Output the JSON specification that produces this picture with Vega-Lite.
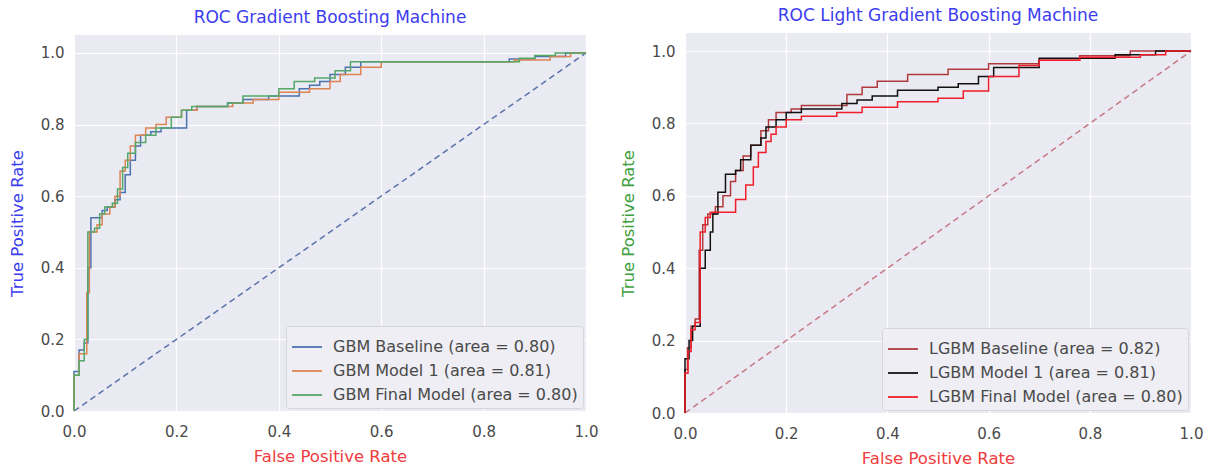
{
  "$schema": "https://vega.github.io/schema/vega-lite/v6.json",
  "background": "white",
  "padding": {"left": 9, "top": 7, "right": 5, "bottom": 5},
  "spacing": 99,
  "bounds": "flush",
  "center": true,
  "resolve": {"scale": {"color": "independent"}},
  "datasets": {
    "diag": [{"fpr": 0, "tpr": 0}, {"fpr": 1, "tpr": 1}],
    "gbm": [
      {"model": "GBM Baseline (area = 0.80)", "fpr": 0, "tpr": 0},
      {"model": "GBM Baseline (area = 0.80)", "fpr": 0, "tpr": 0.11},
      {"model": "GBM Baseline (area = 0.80)", "fpr": 0.01, "tpr": 0.11},
      {"model": "GBM Baseline (area = 0.80)", "fpr": 0.01, "tpr": 0.17},
      {"model": "GBM Baseline (area = 0.80)", "fpr": 0.02, "tpr": 0.17},
      {"model": "GBM Baseline (area = 0.80)", "fpr": 0.02, "tpr": 0.19},
      {"model": "GBM Baseline (area = 0.80)", "fpr": 0.027, "tpr": 0.19},
      {"model": "GBM Baseline (area = 0.80)", "fpr": 0.027, "tpr": 0.4},
      {"model": "GBM Baseline (area = 0.80)", "fpr": 0.033, "tpr": 0.4},
      {"model": "GBM Baseline (area = 0.80)", "fpr": 0.033, "tpr": 0.54},
      {"model": "GBM Baseline (area = 0.80)", "fpr": 0.055, "tpr": 0.54},
      {"model": "GBM Baseline (area = 0.80)", "fpr": 0.055, "tpr": 0.56},
      {"model": "GBM Baseline (area = 0.80)", "fpr": 0.065, "tpr": 0.56},
      {"model": "GBM Baseline (area = 0.80)", "fpr": 0.065, "tpr": 0.57},
      {"model": "GBM Baseline (area = 0.80)", "fpr": 0.08, "tpr": 0.57},
      {"model": "GBM Baseline (area = 0.80)", "fpr": 0.08, "tpr": 0.59},
      {"model": "GBM Baseline (area = 0.80)", "fpr": 0.09, "tpr": 0.59},
      {"model": "GBM Baseline (area = 0.80)", "fpr": 0.09, "tpr": 0.61},
      {"model": "GBM Baseline (area = 0.80)", "fpr": 0.1, "tpr": 0.61},
      {"model": "GBM Baseline (area = 0.80)", "fpr": 0.1, "tpr": 0.66},
      {"model": "GBM Baseline (area = 0.80)", "fpr": 0.11, "tpr": 0.66},
      {"model": "GBM Baseline (area = 0.80)", "fpr": 0.11, "tpr": 0.7},
      {"model": "GBM Baseline (area = 0.80)", "fpr": 0.12, "tpr": 0.7},
      {"model": "GBM Baseline (area = 0.80)", "fpr": 0.12, "tpr": 0.74},
      {"model": "GBM Baseline (area = 0.80)", "fpr": 0.13, "tpr": 0.74},
      {"model": "GBM Baseline (area = 0.80)", "fpr": 0.13, "tpr": 0.77},
      {"model": "GBM Baseline (area = 0.80)", "fpr": 0.15, "tpr": 0.77},
      {"model": "GBM Baseline (area = 0.80)", "fpr": 0.15, "tpr": 0.78},
      {"model": "GBM Baseline (area = 0.80)", "fpr": 0.17, "tpr": 0.78},
      {"model": "GBM Baseline (area = 0.80)", "fpr": 0.17, "tpr": 0.79},
      {"model": "GBM Baseline (area = 0.80)", "fpr": 0.22, "tpr": 0.79},
      {"model": "GBM Baseline (area = 0.80)", "fpr": 0.22, "tpr": 0.84},
      {"model": "GBM Baseline (area = 0.80)", "fpr": 0.24, "tpr": 0.84},
      {"model": "GBM Baseline (area = 0.80)", "fpr": 0.24, "tpr": 0.85},
      {"model": "GBM Baseline (area = 0.80)", "fpr": 0.3, "tpr": 0.85},
      {"model": "GBM Baseline (area = 0.80)", "fpr": 0.3, "tpr": 0.86},
      {"model": "GBM Baseline (area = 0.80)", "fpr": 0.33, "tpr": 0.86},
      {"model": "GBM Baseline (area = 0.80)", "fpr": 0.33, "tpr": 0.87},
      {"model": "GBM Baseline (area = 0.80)", "fpr": 0.38, "tpr": 0.87},
      {"model": "GBM Baseline (area = 0.80)", "fpr": 0.38, "tpr": 0.88},
      {"model": "GBM Baseline (area = 0.80)", "fpr": 0.44, "tpr": 0.88},
      {"model": "GBM Baseline (area = 0.80)", "fpr": 0.44, "tpr": 0.9},
      {"model": "GBM Baseline (area = 0.80)", "fpr": 0.46, "tpr": 0.9},
      {"model": "GBM Baseline (area = 0.80)", "fpr": 0.46, "tpr": 0.91},
      {"model": "GBM Baseline (area = 0.80)", "fpr": 0.48, "tpr": 0.91},
      {"model": "GBM Baseline (area = 0.80)", "fpr": 0.48, "tpr": 0.92},
      {"model": "GBM Baseline (area = 0.80)", "fpr": 0.5, "tpr": 0.92},
      {"model": "GBM Baseline (area = 0.80)", "fpr": 0.5, "tpr": 0.94},
      {"model": "GBM Baseline (area = 0.80)", "fpr": 0.53, "tpr": 0.94},
      {"model": "GBM Baseline (area = 0.80)", "fpr": 0.53, "tpr": 0.96},
      {"model": "GBM Baseline (area = 0.80)", "fpr": 0.56, "tpr": 0.96},
      {"model": "GBM Baseline (area = 0.80)", "fpr": 0.56, "tpr": 0.975},
      {"model": "GBM Baseline (area = 0.80)", "fpr": 0.85, "tpr": 0.975},
      {"model": "GBM Baseline (area = 0.80)", "fpr": 0.85, "tpr": 0.983},
      {"model": "GBM Baseline (area = 0.80)", "fpr": 0.9, "tpr": 0.983},
      {"model": "GBM Baseline (area = 0.80)", "fpr": 0.9, "tpr": 0.99},
      {"model": "GBM Baseline (area = 0.80)", "fpr": 0.96, "tpr": 0.99},
      {"model": "GBM Baseline (area = 0.80)", "fpr": 0.96, "tpr": 1},
      {"model": "GBM Baseline (area = 0.80)", "fpr": 1, "tpr": 1},
      {"model": "GBM Model 1 (area = 0.81)", "fpr": 0, "tpr": 0},
      {"model": "GBM Model 1 (area = 0.81)", "fpr": 0, "tpr": 0.1},
      {"model": "GBM Model 1 (area = 0.81)", "fpr": 0.01, "tpr": 0.1},
      {"model": "GBM Model 1 (area = 0.81)", "fpr": 0.01, "tpr": 0.16},
      {"model": "GBM Model 1 (area = 0.81)", "fpr": 0.025, "tpr": 0.16},
      {"model": "GBM Model 1 (area = 0.81)", "fpr": 0.025, "tpr": 0.33},
      {"model": "GBM Model 1 (area = 0.81)", "fpr": 0.03, "tpr": 0.33},
      {"model": "GBM Model 1 (area = 0.81)", "fpr": 0.03, "tpr": 0.5},
      {"model": "GBM Model 1 (area = 0.81)", "fpr": 0.045, "tpr": 0.5},
      {"model": "GBM Model 1 (area = 0.81)", "fpr": 0.045, "tpr": 0.52},
      {"model": "GBM Model 1 (area = 0.81)", "fpr": 0.055, "tpr": 0.52},
      {"model": "GBM Model 1 (area = 0.81)", "fpr": 0.055, "tpr": 0.55},
      {"model": "GBM Model 1 (area = 0.81)", "fpr": 0.07, "tpr": 0.55},
      {"model": "GBM Model 1 (area = 0.81)", "fpr": 0.07, "tpr": 0.57},
      {"model": "GBM Model 1 (area = 0.81)", "fpr": 0.08, "tpr": 0.57},
      {"model": "GBM Model 1 (area = 0.81)", "fpr": 0.08, "tpr": 0.6},
      {"model": "GBM Model 1 (area = 0.81)", "fpr": 0.09, "tpr": 0.6},
      {"model": "GBM Model 1 (area = 0.81)", "fpr": 0.09, "tpr": 0.67},
      {"model": "GBM Model 1 (area = 0.81)", "fpr": 0.1, "tpr": 0.67},
      {"model": "GBM Model 1 (area = 0.81)", "fpr": 0.1, "tpr": 0.7},
      {"model": "GBM Model 1 (area = 0.81)", "fpr": 0.11, "tpr": 0.7},
      {"model": "GBM Model 1 (area = 0.81)", "fpr": 0.11, "tpr": 0.74},
      {"model": "GBM Model 1 (area = 0.81)", "fpr": 0.12, "tpr": 0.74},
      {"model": "GBM Model 1 (area = 0.81)", "fpr": 0.12, "tpr": 0.77},
      {"model": "GBM Model 1 (area = 0.81)", "fpr": 0.14, "tpr": 0.77},
      {"model": "GBM Model 1 (area = 0.81)", "fpr": 0.14, "tpr": 0.79},
      {"model": "GBM Model 1 (area = 0.81)", "fpr": 0.16, "tpr": 0.79},
      {"model": "GBM Model 1 (area = 0.81)", "fpr": 0.16, "tpr": 0.8},
      {"model": "GBM Model 1 (area = 0.81)", "fpr": 0.18, "tpr": 0.8},
      {"model": "GBM Model 1 (area = 0.81)", "fpr": 0.18, "tpr": 0.82},
      {"model": "GBM Model 1 (area = 0.81)", "fpr": 0.21, "tpr": 0.82},
      {"model": "GBM Model 1 (area = 0.81)", "fpr": 0.21, "tpr": 0.84},
      {"model": "GBM Model 1 (area = 0.81)", "fpr": 0.24, "tpr": 0.84},
      {"model": "GBM Model 1 (area = 0.81)", "fpr": 0.24, "tpr": 0.85},
      {"model": "GBM Model 1 (area = 0.81)", "fpr": 0.31, "tpr": 0.85},
      {"model": "GBM Model 1 (area = 0.81)", "fpr": 0.31, "tpr": 0.86},
      {"model": "GBM Model 1 (area = 0.81)", "fpr": 0.35, "tpr": 0.86},
      {"model": "GBM Model 1 (area = 0.81)", "fpr": 0.35, "tpr": 0.87},
      {"model": "GBM Model 1 (area = 0.81)", "fpr": 0.4, "tpr": 0.87},
      {"model": "GBM Model 1 (area = 0.81)", "fpr": 0.4, "tpr": 0.89},
      {"model": "GBM Model 1 (area = 0.81)", "fpr": 0.46, "tpr": 0.89},
      {"model": "GBM Model 1 (area = 0.81)", "fpr": 0.46, "tpr": 0.9},
      {"model": "GBM Model 1 (area = 0.81)", "fpr": 0.5, "tpr": 0.9},
      {"model": "GBM Model 1 (area = 0.81)", "fpr": 0.5, "tpr": 0.92},
      {"model": "GBM Model 1 (area = 0.81)", "fpr": 0.52, "tpr": 0.92},
      {"model": "GBM Model 1 (area = 0.81)", "fpr": 0.52, "tpr": 0.94},
      {"model": "GBM Model 1 (area = 0.81)", "fpr": 0.56, "tpr": 0.94},
      {"model": "GBM Model 1 (area = 0.81)", "fpr": 0.56, "tpr": 0.96},
      {"model": "GBM Model 1 (area = 0.81)", "fpr": 0.6, "tpr": 0.96},
      {"model": "GBM Model 1 (area = 0.81)", "fpr": 0.6, "tpr": 0.975},
      {"model": "GBM Model 1 (area = 0.81)", "fpr": 0.86, "tpr": 0.975},
      {"model": "GBM Model 1 (area = 0.81)", "fpr": 0.86, "tpr": 0.98},
      {"model": "GBM Model 1 (area = 0.81)", "fpr": 0.93, "tpr": 0.98},
      {"model": "GBM Model 1 (area = 0.81)", "fpr": 0.93, "tpr": 0.99},
      {"model": "GBM Model 1 (area = 0.81)", "fpr": 0.97, "tpr": 0.99},
      {"model": "GBM Model 1 (area = 0.81)", "fpr": 0.97, "tpr": 1},
      {"model": "GBM Model 1 (area = 0.81)", "fpr": 1, "tpr": 1},
      {"model": "GBM Final Model (area = 0.80)", "fpr": 0, "tpr": 0},
      {"model": "GBM Final Model (area = 0.80)", "fpr": 0, "tpr": 0.1},
      {"model": "GBM Final Model (area = 0.80)", "fpr": 0.01, "tpr": 0.1},
      {"model": "GBM Final Model (area = 0.80)", "fpr": 0.01, "tpr": 0.14},
      {"model": "GBM Final Model (area = 0.80)", "fpr": 0.02, "tpr": 0.14},
      {"model": "GBM Final Model (area = 0.80)", "fpr": 0.02, "tpr": 0.2},
      {"model": "GBM Final Model (area = 0.80)", "fpr": 0.027, "tpr": 0.2},
      {"model": "GBM Final Model (area = 0.80)", "fpr": 0.027, "tpr": 0.5},
      {"model": "GBM Final Model (area = 0.80)", "fpr": 0.04, "tpr": 0.5},
      {"model": "GBM Final Model (area = 0.80)", "fpr": 0.04, "tpr": 0.51},
      {"model": "GBM Final Model (area = 0.80)", "fpr": 0.05, "tpr": 0.51},
      {"model": "GBM Final Model (area = 0.80)", "fpr": 0.05, "tpr": 0.55},
      {"model": "GBM Final Model (area = 0.80)", "fpr": 0.06, "tpr": 0.55},
      {"model": "GBM Final Model (area = 0.80)", "fpr": 0.06, "tpr": 0.57},
      {"model": "GBM Final Model (area = 0.80)", "fpr": 0.075, "tpr": 0.57},
      {"model": "GBM Final Model (area = 0.80)", "fpr": 0.075, "tpr": 0.58},
      {"model": "GBM Final Model (area = 0.80)", "fpr": 0.085, "tpr": 0.58},
      {"model": "GBM Final Model (area = 0.80)", "fpr": 0.085, "tpr": 0.62},
      {"model": "GBM Final Model (area = 0.80)", "fpr": 0.095, "tpr": 0.62},
      {"model": "GBM Final Model (area = 0.80)", "fpr": 0.095, "tpr": 0.68},
      {"model": "GBM Final Model (area = 0.80)", "fpr": 0.105, "tpr": 0.68},
      {"model": "GBM Final Model (area = 0.80)", "fpr": 0.105, "tpr": 0.72},
      {"model": "GBM Final Model (area = 0.80)", "fpr": 0.12, "tpr": 0.72},
      {"model": "GBM Final Model (area = 0.80)", "fpr": 0.12, "tpr": 0.75},
      {"model": "GBM Final Model (area = 0.80)", "fpr": 0.14, "tpr": 0.75},
      {"model": "GBM Final Model (area = 0.80)", "fpr": 0.14, "tpr": 0.77},
      {"model": "GBM Final Model (area = 0.80)", "fpr": 0.16, "tpr": 0.77},
      {"model": "GBM Final Model (area = 0.80)", "fpr": 0.16, "tpr": 0.79},
      {"model": "GBM Final Model (area = 0.80)", "fpr": 0.19, "tpr": 0.79},
      {"model": "GBM Final Model (area = 0.80)", "fpr": 0.19, "tpr": 0.82},
      {"model": "GBM Final Model (area = 0.80)", "fpr": 0.21, "tpr": 0.82},
      {"model": "GBM Final Model (area = 0.80)", "fpr": 0.21, "tpr": 0.84},
      {"model": "GBM Final Model (area = 0.80)", "fpr": 0.23, "tpr": 0.84},
      {"model": "GBM Final Model (area = 0.80)", "fpr": 0.23, "tpr": 0.85},
      {"model": "GBM Final Model (area = 0.80)", "fpr": 0.3, "tpr": 0.85},
      {"model": "GBM Final Model (area = 0.80)", "fpr": 0.3, "tpr": 0.86},
      {"model": "GBM Final Model (area = 0.80)", "fpr": 0.33, "tpr": 0.86},
      {"model": "GBM Final Model (area = 0.80)", "fpr": 0.33, "tpr": 0.88},
      {"model": "GBM Final Model (area = 0.80)", "fpr": 0.4, "tpr": 0.88},
      {"model": "GBM Final Model (area = 0.80)", "fpr": 0.4, "tpr": 0.9},
      {"model": "GBM Final Model (area = 0.80)", "fpr": 0.43, "tpr": 0.9},
      {"model": "GBM Final Model (area = 0.80)", "fpr": 0.43, "tpr": 0.92},
      {"model": "GBM Final Model (area = 0.80)", "fpr": 0.47, "tpr": 0.92},
      {"model": "GBM Final Model (area = 0.80)", "fpr": 0.47, "tpr": 0.93},
      {"model": "GBM Final Model (area = 0.80)", "fpr": 0.51, "tpr": 0.93},
      {"model": "GBM Final Model (area = 0.80)", "fpr": 0.51, "tpr": 0.95},
      {"model": "GBM Final Model (area = 0.80)", "fpr": 0.54, "tpr": 0.95},
      {"model": "GBM Final Model (area = 0.80)", "fpr": 0.54, "tpr": 0.975},
      {"model": "GBM Final Model (area = 0.80)", "fpr": 0.87, "tpr": 0.975},
      {"model": "GBM Final Model (area = 0.80)", "fpr": 0.87, "tpr": 0.985},
      {"model": "GBM Final Model (area = 0.80)", "fpr": 0.9, "tpr": 0.985},
      {"model": "GBM Final Model (area = 0.80)", "fpr": 0.9, "tpr": 0.993},
      {"model": "GBM Final Model (area = 0.80)", "fpr": 0.94, "tpr": 0.993},
      {"model": "GBM Final Model (area = 0.80)", "fpr": 0.94, "tpr": 1},
      {"model": "GBM Final Model (area = 0.80)", "fpr": 1, "tpr": 1}
    ],
    "lgbm": [
      {"model": "LGBM Baseline (area = 0.82)", "fpr": 0, "tpr": 0},
      {"model": "LGBM Baseline (area = 0.82)", "fpr": 0, "tpr": 0.12},
      {"model": "LGBM Baseline (area = 0.82)", "fpr": 0.005, "tpr": 0.12},
      {"model": "LGBM Baseline (area = 0.82)", "fpr": 0.005, "tpr": 0.18},
      {"model": "LGBM Baseline (area = 0.82)", "fpr": 0.012, "tpr": 0.18},
      {"model": "LGBM Baseline (area = 0.82)", "fpr": 0.012, "tpr": 0.24},
      {"model": "LGBM Baseline (area = 0.82)", "fpr": 0.02, "tpr": 0.24},
      {"model": "LGBM Baseline (area = 0.82)", "fpr": 0.02, "tpr": 0.26},
      {"model": "LGBM Baseline (area = 0.82)", "fpr": 0.028, "tpr": 0.26},
      {"model": "LGBM Baseline (area = 0.82)", "fpr": 0.028, "tpr": 0.45},
      {"model": "LGBM Baseline (area = 0.82)", "fpr": 0.035, "tpr": 0.45},
      {"model": "LGBM Baseline (area = 0.82)", "fpr": 0.035, "tpr": 0.52},
      {"model": "LGBM Baseline (area = 0.82)", "fpr": 0.045, "tpr": 0.52},
      {"model": "LGBM Baseline (area = 0.82)", "fpr": 0.045, "tpr": 0.55},
      {"model": "LGBM Baseline (area = 0.82)", "fpr": 0.06, "tpr": 0.55},
      {"model": "LGBM Baseline (area = 0.82)", "fpr": 0.06, "tpr": 0.57},
      {"model": "LGBM Baseline (area = 0.82)", "fpr": 0.075, "tpr": 0.57},
      {"model": "LGBM Baseline (area = 0.82)", "fpr": 0.075, "tpr": 0.6},
      {"model": "LGBM Baseline (area = 0.82)", "fpr": 0.09, "tpr": 0.6},
      {"model": "LGBM Baseline (area = 0.82)", "fpr": 0.09, "tpr": 0.64},
      {"model": "LGBM Baseline (area = 0.82)", "fpr": 0.1, "tpr": 0.64},
      {"model": "LGBM Baseline (area = 0.82)", "fpr": 0.1, "tpr": 0.67},
      {"model": "LGBM Baseline (area = 0.82)", "fpr": 0.115, "tpr": 0.67},
      {"model": "LGBM Baseline (area = 0.82)", "fpr": 0.115, "tpr": 0.71},
      {"model": "LGBM Baseline (area = 0.82)", "fpr": 0.13, "tpr": 0.71},
      {"model": "LGBM Baseline (area = 0.82)", "fpr": 0.13, "tpr": 0.74},
      {"model": "LGBM Baseline (area = 0.82)", "fpr": 0.15, "tpr": 0.74},
      {"model": "LGBM Baseline (area = 0.82)", "fpr": 0.15, "tpr": 0.78},
      {"model": "LGBM Baseline (area = 0.82)", "fpr": 0.165, "tpr": 0.78},
      {"model": "LGBM Baseline (area = 0.82)", "fpr": 0.165, "tpr": 0.81},
      {"model": "LGBM Baseline (area = 0.82)", "fpr": 0.18, "tpr": 0.81},
      {"model": "LGBM Baseline (area = 0.82)", "fpr": 0.18, "tpr": 0.83},
      {"model": "LGBM Baseline (area = 0.82)", "fpr": 0.21, "tpr": 0.83},
      {"model": "LGBM Baseline (area = 0.82)", "fpr": 0.21, "tpr": 0.84},
      {"model": "LGBM Baseline (area = 0.82)", "fpr": 0.23, "tpr": 0.84},
      {"model": "LGBM Baseline (area = 0.82)", "fpr": 0.23, "tpr": 0.85},
      {"model": "LGBM Baseline (area = 0.82)", "fpr": 0.32, "tpr": 0.85},
      {"model": "LGBM Baseline (area = 0.82)", "fpr": 0.32, "tpr": 0.88},
      {"model": "LGBM Baseline (area = 0.82)", "fpr": 0.35, "tpr": 0.88},
      {"model": "LGBM Baseline (area = 0.82)", "fpr": 0.35, "tpr": 0.9},
      {"model": "LGBM Baseline (area = 0.82)", "fpr": 0.38, "tpr": 0.9},
      {"model": "LGBM Baseline (area = 0.82)", "fpr": 0.38, "tpr": 0.917},
      {"model": "LGBM Baseline (area = 0.82)", "fpr": 0.44, "tpr": 0.917},
      {"model": "LGBM Baseline (area = 0.82)", "fpr": 0.44, "tpr": 0.935},
      {"model": "LGBM Baseline (area = 0.82)", "fpr": 0.52, "tpr": 0.935},
      {"model": "LGBM Baseline (area = 0.82)", "fpr": 0.52, "tpr": 0.95},
      {"model": "LGBM Baseline (area = 0.82)", "fpr": 0.6, "tpr": 0.95},
      {"model": "LGBM Baseline (area = 0.82)", "fpr": 0.6, "tpr": 0.965},
      {"model": "LGBM Baseline (area = 0.82)", "fpr": 0.7, "tpr": 0.965},
      {"model": "LGBM Baseline (area = 0.82)", "fpr": 0.7, "tpr": 0.975},
      {"model": "LGBM Baseline (area = 0.82)", "fpr": 0.78, "tpr": 0.975},
      {"model": "LGBM Baseline (area = 0.82)", "fpr": 0.78, "tpr": 0.987},
      {"model": "LGBM Baseline (area = 0.82)", "fpr": 0.88, "tpr": 0.987},
      {"model": "LGBM Baseline (area = 0.82)", "fpr": 0.88, "tpr": 1},
      {"model": "LGBM Baseline (area = 0.82)", "fpr": 1, "tpr": 1},
      {"model": "LGBM Model 1 (area = 0.81)", "fpr": 0, "tpr": 0},
      {"model": "LGBM Model 1 (area = 0.81)", "fpr": 0, "tpr": 0.15},
      {"model": "LGBM Model 1 (area = 0.81)", "fpr": 0.008, "tpr": 0.15},
      {"model": "LGBM Model 1 (area = 0.81)", "fpr": 0.008, "tpr": 0.2},
      {"model": "LGBM Model 1 (area = 0.81)", "fpr": 0.015, "tpr": 0.2},
      {"model": "LGBM Model 1 (area = 0.81)", "fpr": 0.015, "tpr": 0.24},
      {"model": "LGBM Model 1 (area = 0.81)", "fpr": 0.03, "tpr": 0.24},
      {"model": "LGBM Model 1 (area = 0.81)", "fpr": 0.03, "tpr": 0.4},
      {"model": "LGBM Model 1 (area = 0.81)", "fpr": 0.04, "tpr": 0.4},
      {"model": "LGBM Model 1 (area = 0.81)", "fpr": 0.04, "tpr": 0.45},
      {"model": "LGBM Model 1 (area = 0.81)", "fpr": 0.05, "tpr": 0.45},
      {"model": "LGBM Model 1 (area = 0.81)", "fpr": 0.05, "tpr": 0.5},
      {"model": "LGBM Model 1 (area = 0.81)", "fpr": 0.055, "tpr": 0.5},
      {"model": "LGBM Model 1 (area = 0.81)", "fpr": 0.055, "tpr": 0.55},
      {"model": "LGBM Model 1 (area = 0.81)", "fpr": 0.065, "tpr": 0.55},
      {"model": "LGBM Model 1 (area = 0.81)", "fpr": 0.065, "tpr": 0.61},
      {"model": "LGBM Model 1 (area = 0.81)", "fpr": 0.08, "tpr": 0.61},
      {"model": "LGBM Model 1 (area = 0.81)", "fpr": 0.08, "tpr": 0.66},
      {"model": "LGBM Model 1 (area = 0.81)", "fpr": 0.1, "tpr": 0.66},
      {"model": "LGBM Model 1 (area = 0.81)", "fpr": 0.1, "tpr": 0.67},
      {"model": "LGBM Model 1 (area = 0.81)", "fpr": 0.11, "tpr": 0.67},
      {"model": "LGBM Model 1 (area = 0.81)", "fpr": 0.11, "tpr": 0.7},
      {"model": "LGBM Model 1 (area = 0.81)", "fpr": 0.13, "tpr": 0.7},
      {"model": "LGBM Model 1 (area = 0.81)", "fpr": 0.13, "tpr": 0.74},
      {"model": "LGBM Model 1 (area = 0.81)", "fpr": 0.15, "tpr": 0.74},
      {"model": "LGBM Model 1 (area = 0.81)", "fpr": 0.15, "tpr": 0.76},
      {"model": "LGBM Model 1 (area = 0.81)", "fpr": 0.16, "tpr": 0.76},
      {"model": "LGBM Model 1 (area = 0.81)", "fpr": 0.16, "tpr": 0.79},
      {"model": "LGBM Model 1 (area = 0.81)", "fpr": 0.18, "tpr": 0.79},
      {"model": "LGBM Model 1 (area = 0.81)", "fpr": 0.18, "tpr": 0.81},
      {"model": "LGBM Model 1 (area = 0.81)", "fpr": 0.2, "tpr": 0.81},
      {"model": "LGBM Model 1 (area = 0.81)", "fpr": 0.2, "tpr": 0.83},
      {"model": "LGBM Model 1 (area = 0.81)", "fpr": 0.23, "tpr": 0.83},
      {"model": "LGBM Model 1 (area = 0.81)", "fpr": 0.23, "tpr": 0.84},
      {"model": "LGBM Model 1 (area = 0.81)", "fpr": 0.31, "tpr": 0.84},
      {"model": "LGBM Model 1 (area = 0.81)", "fpr": 0.31, "tpr": 0.855},
      {"model": "LGBM Model 1 (area = 0.81)", "fpr": 0.34, "tpr": 0.855},
      {"model": "LGBM Model 1 (area = 0.81)", "fpr": 0.34, "tpr": 0.865},
      {"model": "LGBM Model 1 (area = 0.81)", "fpr": 0.37, "tpr": 0.865},
      {"model": "LGBM Model 1 (area = 0.81)", "fpr": 0.37, "tpr": 0.876},
      {"model": "LGBM Model 1 (area = 0.81)", "fpr": 0.42, "tpr": 0.876},
      {"model": "LGBM Model 1 (area = 0.81)", "fpr": 0.42, "tpr": 0.892},
      {"model": "LGBM Model 1 (area = 0.81)", "fpr": 0.5, "tpr": 0.892},
      {"model": "LGBM Model 1 (area = 0.81)", "fpr": 0.5, "tpr": 0.9},
      {"model": "LGBM Model 1 (area = 0.81)", "fpr": 0.54, "tpr": 0.9},
      {"model": "LGBM Model 1 (area = 0.81)", "fpr": 0.54, "tpr": 0.91},
      {"model": "LGBM Model 1 (area = 0.81)", "fpr": 0.58, "tpr": 0.91},
      {"model": "LGBM Model 1 (area = 0.81)", "fpr": 0.58, "tpr": 0.93},
      {"model": "LGBM Model 1 (area = 0.81)", "fpr": 0.61, "tpr": 0.93},
      {"model": "LGBM Model 1 (area = 0.81)", "fpr": 0.61, "tpr": 0.955},
      {"model": "LGBM Model 1 (area = 0.81)", "fpr": 0.7, "tpr": 0.955},
      {"model": "LGBM Model 1 (area = 0.81)", "fpr": 0.7, "tpr": 0.98},
      {"model": "LGBM Model 1 (area = 0.81)", "fpr": 0.85, "tpr": 0.98},
      {"model": "LGBM Model 1 (area = 0.81)", "fpr": 0.85, "tpr": 0.99},
      {"model": "LGBM Model 1 (area = 0.81)", "fpr": 0.93, "tpr": 0.99},
      {"model": "LGBM Model 1 (area = 0.81)", "fpr": 0.93, "tpr": 1},
      {"model": "LGBM Model 1 (area = 0.81)", "fpr": 1, "tpr": 1},
      {"model": "LGBM Final Model (area = 0.80)", "fpr": 0, "tpr": 0},
      {"model": "LGBM Final Model (area = 0.80)", "fpr": 0, "tpr": 0.11},
      {"model": "LGBM Final Model (area = 0.80)", "fpr": 0.006, "tpr": 0.11},
      {"model": "LGBM Final Model (area = 0.80)", "fpr": 0.006, "tpr": 0.17},
      {"model": "LGBM Final Model (area = 0.80)", "fpr": 0.012, "tpr": 0.17},
      {"model": "LGBM Final Model (area = 0.80)", "fpr": 0.012, "tpr": 0.23},
      {"model": "LGBM Final Model (area = 0.80)", "fpr": 0.02, "tpr": 0.23},
      {"model": "LGBM Final Model (area = 0.80)", "fpr": 0.02, "tpr": 0.25},
      {"model": "LGBM Final Model (area = 0.80)", "fpr": 0.03, "tpr": 0.25},
      {"model": "LGBM Final Model (area = 0.80)", "fpr": 0.03, "tpr": 0.5},
      {"model": "LGBM Final Model (area = 0.80)", "fpr": 0.04, "tpr": 0.5},
      {"model": "LGBM Final Model (area = 0.80)", "fpr": 0.04, "tpr": 0.54},
      {"model": "LGBM Final Model (area = 0.80)", "fpr": 0.05, "tpr": 0.54},
      {"model": "LGBM Final Model (area = 0.80)", "fpr": 0.05, "tpr": 0.555},
      {"model": "LGBM Final Model (area = 0.80)", "fpr": 0.1, "tpr": 0.555},
      {"model": "LGBM Final Model (area = 0.80)", "fpr": 0.1, "tpr": 0.59},
      {"model": "LGBM Final Model (area = 0.80)", "fpr": 0.12, "tpr": 0.59},
      {"model": "LGBM Final Model (area = 0.80)", "fpr": 0.12, "tpr": 0.63},
      {"model": "LGBM Final Model (area = 0.80)", "fpr": 0.135, "tpr": 0.63},
      {"model": "LGBM Final Model (area = 0.80)", "fpr": 0.135, "tpr": 0.68},
      {"model": "LGBM Final Model (area = 0.80)", "fpr": 0.145, "tpr": 0.68},
      {"model": "LGBM Final Model (area = 0.80)", "fpr": 0.145, "tpr": 0.72},
      {"model": "LGBM Final Model (area = 0.80)", "fpr": 0.16, "tpr": 0.72},
      {"model": "LGBM Final Model (area = 0.80)", "fpr": 0.16, "tpr": 0.75},
      {"model": "LGBM Final Model (area = 0.80)", "fpr": 0.17, "tpr": 0.75},
      {"model": "LGBM Final Model (area = 0.80)", "fpr": 0.17, "tpr": 0.77},
      {"model": "LGBM Final Model (area = 0.80)", "fpr": 0.18, "tpr": 0.77},
      {"model": "LGBM Final Model (area = 0.80)", "fpr": 0.18, "tpr": 0.79},
      {"model": "LGBM Final Model (area = 0.80)", "fpr": 0.2, "tpr": 0.79},
      {"model": "LGBM Final Model (area = 0.80)", "fpr": 0.2, "tpr": 0.81},
      {"model": "LGBM Final Model (area = 0.80)", "fpr": 0.23, "tpr": 0.81},
      {"model": "LGBM Final Model (area = 0.80)", "fpr": 0.23, "tpr": 0.82},
      {"model": "LGBM Final Model (area = 0.80)", "fpr": 0.3, "tpr": 0.82},
      {"model": "LGBM Final Model (area = 0.80)", "fpr": 0.3, "tpr": 0.83},
      {"model": "LGBM Final Model (area = 0.80)", "fpr": 0.35, "tpr": 0.83},
      {"model": "LGBM Final Model (area = 0.80)", "fpr": 0.35, "tpr": 0.845},
      {"model": "LGBM Final Model (area = 0.80)", "fpr": 0.42, "tpr": 0.845},
      {"model": "LGBM Final Model (area = 0.80)", "fpr": 0.42, "tpr": 0.86},
      {"model": "LGBM Final Model (area = 0.80)", "fpr": 0.5, "tpr": 0.86},
      {"model": "LGBM Final Model (area = 0.80)", "fpr": 0.5, "tpr": 0.87},
      {"model": "LGBM Final Model (area = 0.80)", "fpr": 0.55, "tpr": 0.87},
      {"model": "LGBM Final Model (area = 0.80)", "fpr": 0.55, "tpr": 0.89},
      {"model": "LGBM Final Model (area = 0.80)", "fpr": 0.6, "tpr": 0.89},
      {"model": "LGBM Final Model (area = 0.80)", "fpr": 0.6, "tpr": 0.93},
      {"model": "LGBM Final Model (area = 0.80)", "fpr": 0.66, "tpr": 0.93},
      {"model": "LGBM Final Model (area = 0.80)", "fpr": 0.66, "tpr": 0.96},
      {"model": "LGBM Final Model (area = 0.80)", "fpr": 0.7, "tpr": 0.96},
      {"model": "LGBM Final Model (area = 0.80)", "fpr": 0.7, "tpr": 0.975},
      {"model": "LGBM Final Model (area = 0.80)", "fpr": 0.78, "tpr": 0.975},
      {"model": "LGBM Final Model (area = 0.80)", "fpr": 0.78, "tpr": 0.983},
      {"model": "LGBM Final Model (area = 0.80)", "fpr": 0.9, "tpr": 0.983},
      {"model": "LGBM Final Model (area = 0.80)", "fpr": 0.9, "tpr": 0.99},
      {"model": "LGBM Final Model (area = 0.80)", "fpr": 0.95, "tpr": 0.99},
      {"model": "LGBM Final Model (area = 0.80)", "fpr": 0.95, "tpr": 1},
      {"model": "LGBM Final Model (area = 0.80)", "fpr": 1, "tpr": 1}
    ]
  },
  "hconcat": [
    {
      "width": 512,
      "height": 376,
      "title": {"text": "ROC Gradient Boosting Machine"},
      "layer": [
        {
          "data": {"name": "diag"},
          "mark": {"type": "line", "strokeDash": [6, 4], "strokeWidth": 1.5, "color": "#5b72aa"},
          "encoding": {
            "x": {"field": "fpr", "type": "quantitative"},
            "y": {"field": "tpr", "type": "quantitative"}
          }
        },
        {
          "data": {"name": "gbm"},
          "transform": [{"window": [{"op": "row_number", "as": "i"}], "groupby": ["model"]}],
          "mark": {"type": "line", "strokeWidth": 1.5},
          "encoding": {
            "x": {"field": "fpr", "type": "quantitative", "scale": {"domain": [0, 1], "nice": false, "zero": false},
                  "axis": {"title": "False Positive Rate", "titleColor": "#f03c3c", "values": [0, 0.2, 0.4, 0.6, 0.8, 1], "format": ".1f"}},
            "y": {"field": "tpr", "type": "quantitative", "scale": {"domain": [0, 1.05], "nice": false},
                  "axis": {"title": "True Positive Rate", "titleColor": "#3c3cf0", "values": [0, 0.2, 0.4, 0.6, 0.8, 1], "format": ".1f"}},
            "order": {"field": "i", "type": "quantitative"},
            "color": {"field": "model", "type": "nominal",
                      "scale": {"domain": ["GBM Baseline (area = 0.80)", "GBM Model 1 (area = 0.81)", "GBM Final Model (area = 0.80)"],
                                "range": ["#4C72B0", "#DD8452", "#55A868"]},
                      "legend": {"title": null, "orient": "bottom-right"}}
          }
        }
      ]
    },
    {
      "width": 506,
      "height": 380,
      "title": {"text": "ROC Light Gradient Boosting Machine"},
      "layer": [
        {
          "data": {"name": "diag"},
          "mark": {"type": "line", "strokeDash": [6, 4], "strokeWidth": 1.5, "color": "#c67a86"},
          "encoding": {
            "x": {"field": "fpr", "type": "quantitative"},
            "y": {"field": "tpr", "type": "quantitative"}
          }
        },
        {
          "data": {"name": "lgbm"},
          "transform": [{"window": [{"op": "row_number", "as": "i"}], "groupby": ["model"]}],
          "mark": {"type": "line", "strokeWidth": 1.5},
          "encoding": {
            "x": {"field": "fpr", "type": "quantitative", "scale": {"domain": [0, 1], "nice": false, "zero": false},
                  "axis": {"title": "False Positive Rate", "titleColor": "#f03c3c", "values": [0, 0.2, 0.4, 0.6, 0.8, 1], "format": ".1f"}},
            "y": {"field": "tpr", "type": "quantitative", "scale": {"domain": [0, 1.05], "nice": false},
                  "axis": {"title": "True Positive Rate", "titleColor": "#3ea03e", "values": [0, 0.2, 0.4, 0.6, 0.8, 1], "format": ".1f"}},
            "order": {"field": "i", "type": "quantitative"},
            "color": {"field": "model", "type": "nominal",
                      "scale": {"domain": ["LGBM Baseline (area = 0.82)", "LGBM Model 1 (area = 0.81)", "LGBM Final Model (area = 0.80)"],
                                "range": ["#b0393c", "#111111", "#f01e28"]},
                      "legend": {"title": null, "orient": "bottom-right"}}
          }
        }
      ]
    }
  ],
  "config": {
    "font": "DejaVu Sans",
    "view": {"fill": "#EAEAF2", "stroke": null},
    "axis": {
      "grid": true, "gridColor": "#FFFFFF", "gridWidth": 1.2, "domain": false, "ticks": false,
      "labelFontSize": 15, "labelColor": "#4a4a4a", "labelFlush": false,
      "titleFontSize": 16.5, "titleFontWeight": "normal"
    },
    "axisX": {"titlePadding": 9, "labelPadding": 13},
    "axisY": {"titlePadding": 15, "labelPadding": 10},
    "title": {"fontSize": 17, "fontWeight": "normal", "color": "#3c3cf0", "offset": 8},
    "legend": {
      "fillColor": "#EEEEF4", "strokeColor": "#D6D6DE", "cornerRadius": 3, "padding": 5, "offset": 3,
      "labelFontSize": 16, "labelColor": "#4a4a4a", "labelLimit": 0, "symbolType": "stroke", "symbolStrokeWidth": 1.8,
      "symbolSize": 900, "rowPadding": -4, "labelOffset": 10
    }
  }
}
